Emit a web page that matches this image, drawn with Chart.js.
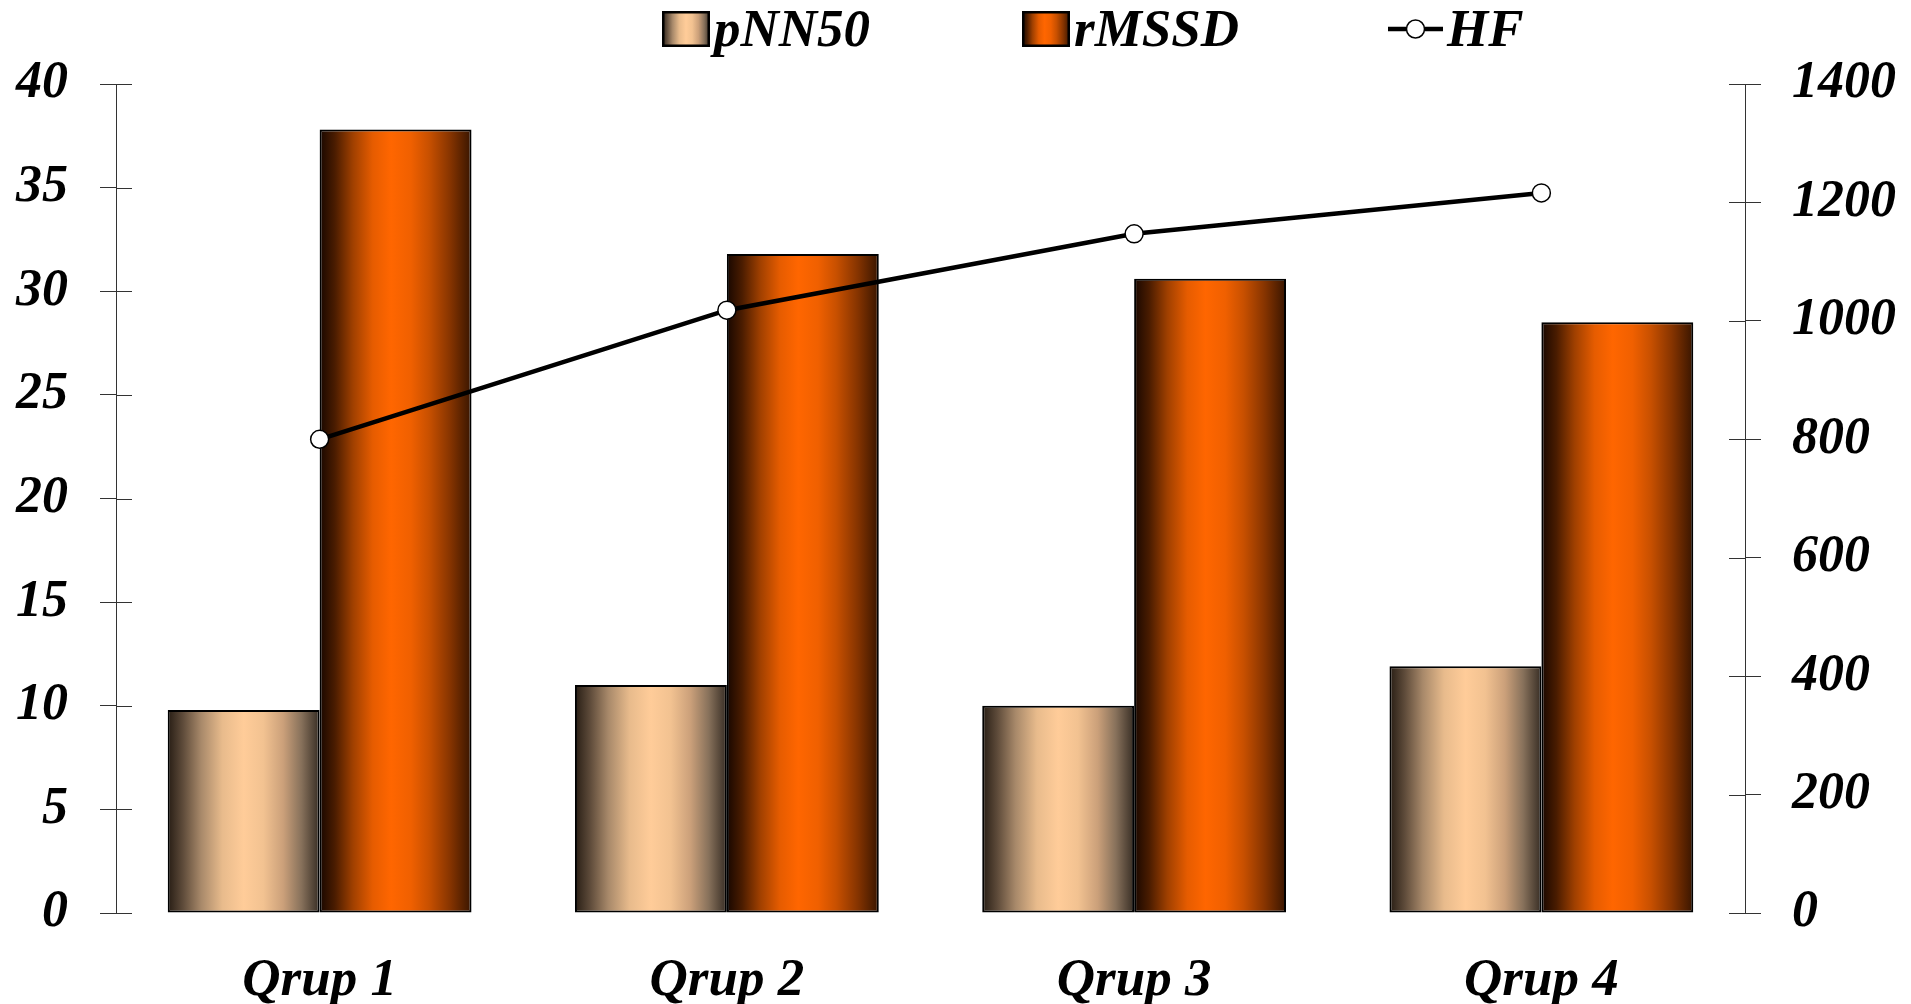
<!DOCTYPE html>
<html>
<head>
<meta charset="utf-8">
<script src="https://cdn.jsdelivr.net/npm/chart.js@4/dist/chart.umd.min.js"></script>
<style>
  html, body { margin: 0; padding: 0; background: #ffffff; }
  #wrap { width: 1911px; height: 1004px; position: relative; }
</style>
</head>
<body>
<div id="wrap"><canvas id="hrv"></canvas></div>
<script>
// Groups and measured HRV indices
const groups = ['Qrup 1', 'Qrup 2', 'Qrup 3', 'Qrup 4'];
const pNN50 = [9.8, 11.0, 10.0, 11.9];
const rMSSD = [37.8, 31.8, 30.6, 28.5];
const HF = [800, 1018, 1147, 1216];

// Axis ranges
const leftMax = 40, leftStep = 5;
const rightMax = 1400, rightStep = 200;

const FONT = "'Liberation Serif', 'Times New Roman', serif";
const CAT_PCT = 0.746;

// Horizontal "cylinder" shading for each bar series
const shades = {
  pNN50: [[0, '#271d14'], [0.1, '#5e4b3a'], [0.22, '#a8896a'], [0.36, '#e8bb8c'], [0.5, '#ffcc99'],
          [0.63, '#f2c291'], [0.76, '#cba07a'], [0.88, '#87715b'], [1, '#372d24']],
  rMSSD: [[0, '#180700'], [0.1, '#4a1c00'], [0.22, '#a04000'], [0.35, '#e65c00'], [0.47, '#ff6600'],
          [0.6, '#f06000'], [0.72, '#c85000'], [0.86, '#863400'], [1, '#381500']]
};

function hGradient(ctx, x0, x1, stops) {
  const g = ctx.createLinearGradient(x0, 0, x1, 0);
  stops.forEach(([o, c]) => g.addColorStop(o, c));
  return g;
}

// Gradient spanning the bar's own width, derived from the category scale
function barFill(stops, slot, slots) {
  return (c) => {
    const chart = c.chart;
    const xs = chart.scales && chart.scales.x;
    if (!chart.chartArea || !xs || c.dataIndex === undefined) return stops[4][1];
    const catW = xs.width / chart.data.labels.length;
    const barW = catW * CAT_PCT / slots;
    const centre = xs.getPixelForValue(c.dataIndex);
    const left = centre - (catW * CAT_PCT) / 2 + slot * barW;
    return hGradient(chart.ctx, left, left + barW, stops);
  };
}

// Ticks that also reach into the plot, crossing the axis line
const innerTicks = {
  id: 'innerTicks',
  afterDraw(chart, args, opts) {
    const ctx = chart.ctx;
    ctx.save();
    ctx.strokeStyle = opts.color;
    ctx.lineWidth = 1;
    ['y', 'y1'].forEach(id => {
      const s = chart.scales[id];
      const edge = id === 'y' ? s.right : s.left;
      const dir = id === 'y' ? 1 : -1;
      s.ticks.forEach(t => {
        const py = Math.round(s.getPixelForValue(t.value)) + 0.5;
        ctx.beginPath();
        ctx.moveTo(edge, py);
        ctx.lineTo(edge + dir * opts.length, py);
        ctx.stroke();
      });
    });
    ctx.restore();
  }
};

// Series key across the top
const seriesKey = {
  id: 'seriesKey',
  afterDraw(chart, args, opts) {
    const ctx = chart.ctx;
    const y = opts.y;
    ctx.save();
    chart.data.datasets.forEach((ds, i) => {
      const x = opts.slots[i];
      let tx;
      if (ds.type === 'line') {
        const w = 55;
        ctx.strokeStyle = '#000';
        ctx.lineWidth = 4.5;
        ctx.beginPath();
        ctx.moveTo(x, y);
        ctx.lineTo(x + w, y);
        ctx.stroke();
        ctx.beginPath();
        ctx.arc(x + w / 2, y, 9, 0, Math.PI * 2);
        ctx.fillStyle = '#fff';
        ctx.fill();
        ctx.lineWidth = 1.5;
        ctx.stroke();
        tx = x + w + 4;
      } else {
        const w = opts.boxW, h = opts.boxH;
        ctx.fillStyle = hGradient(ctx, x, x + w, ds.shade);
        ctx.fillRect(x, y - h / 2, w, h);
        ctx.strokeStyle = '#000';
        ctx.lineWidth = 2.5;
        ctx.strokeRect(x + 1.25, y - h / 2 + 1.25, w - 2.5, h - 2.5);
        tx = x + w + 4;
      }
      ctx.font = 'italic bold 53px ' + FONT;
      ctx.fillStyle = '#000';
      ctx.textBaseline = 'alphabetic';
      ctx.textAlign = 'left';
      ctx.fillText(ds.label, tx, opts.baseline);
    });
    ctx.restore();
  }
};

const tickFont = { family: FONT, size: 52, style: 'italic', weight: 'bold' };

new Chart(document.getElementById('hrv'), {
  data: {
    labels: groups,
    datasets: [
      {
        type: 'bar', label: 'pNN50', data: pNN50, yAxisID: 'y', order: 2,
        shade: shades.pNN50,
        backgroundColor: barFill(shades.pNN50, 0, 2),
        borderColor: '#000', borderWidth: 2, borderSkipped: false,
        barPercentage: 1, categoryPercentage: CAT_PCT
      },
      {
        type: 'bar', label: 'rMSSD', data: rMSSD, yAxisID: 'y', order: 2,
        shade: shades.rMSSD,
        backgroundColor: barFill(shades.rMSSD, 1, 2),
        borderColor: '#000', borderWidth: 2, borderSkipped: false,
        barPercentage: 1, categoryPercentage: CAT_PCT
      },
      {
        type: 'line', label: 'HF', data: HF, yAxisID: 'y1', order: 1,
        borderColor: '#000', borderWidth: 4.5, tension: 0, fill: false,
        pointRadius: 9, pointBorderWidth: 1.5,
        pointBackgroundColor: '#fff', pointBorderColor: '#000'
      }
    ]
  },
  options: {
    responsive: true,
    maintainAspectRatio: false,
    animation: false,
    events: [],
    layout: { padding: { top: 84, left: 0, right: 0, bottom: 0 } },
    plugins: {
      legend: { display: false },
      tooltip: { enabled: false },
      innerTicks: { color: '#333', length: 16 },
      seriesKey: { slots: [662, 1022, 1388], y: 29, baseline: 46, boxW: 48, boxH: 36 }
    },
    scales: {
      x: {
        offset: true,
        grid: { display: false },
        border: { display: false },
        ticks: {
          color: '#000', padding: 29, maxRotation: 0, autoSkip: false,
          font: { family: FONT, size: 53, style: 'italic', weight: 'bold' }
        },
        afterFit(s) { s.height = 91; }
      },
      y: {
        position: 'left', min: 0, max: leftMax,
        ticks: { stepSize: leftStep, padding: 32, color: '#000', font: tickFont,
                 callback: v => String(v) },
        grid: { drawOnChartArea: false, drawTicks: true, tickLength: 16, color: '#333', lineWidth: 1 },
        border: { display: true, color: '#333', width: 1 },
        afterFit(s) { s.width = 116; }
      },
      y1: {
        position: 'right', min: 0, max: rightMax,
        ticks: { stepSize: rightStep, padding: 31, color: '#000', font: tickFont,
                 callback: v => String(v) },
        grid: { drawOnChartArea: false, drawTicks: true, tickLength: 16, color: '#333', lineWidth: 1 },
        border: { display: true, color: '#333', width: 1 },
        afterFit(s) { s.width = 166; }
      }
    }
  },
  plugins: [innerTicks, seriesKey]
});
</script>
</body>
</html>
